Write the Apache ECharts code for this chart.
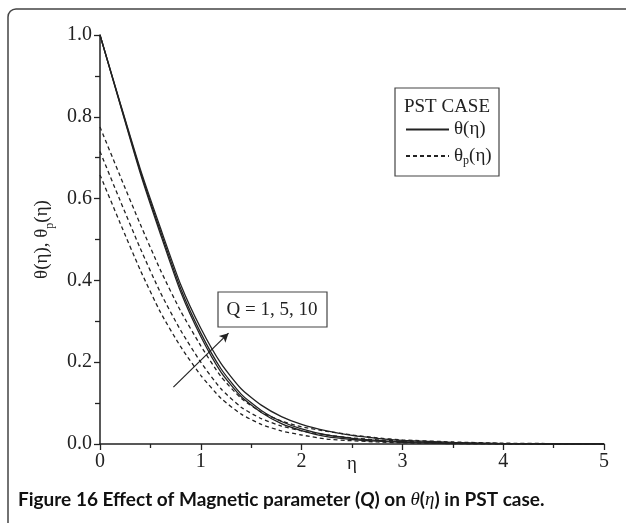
<!DOCTYPE html>
<html>
<head>
<meta charset="utf-8">
<script src="https://cdn.jsdelivr.net/npm/echarts@6/dist/echarts.min.js"></script>
<style>
  html, body { margin: 0; padding: 0; background: #fff; }
  #chart { width: 626px; height: 523px; }
</style>
</head>
<body>
<div id="chart"></div>
<script>
// ========== 数据 ==========
const etaValues = [0, 0.2, 0.4, 0.6, 0.8, 1.0, 1.2, 1.4, 1.6, 1.8, 2.0, 2.25, 2.5, 2.75, 3.0, 3.5, 4.0, 4.5, 5.0];

// θ(η) 实线, Q = 1, 5, 10
const thetaQ1  = [1.0, 0.830, 0.662, 0.513, 0.372, 0.263, 0.176, 0.116, 0.077, 0.050, 0.033, 0.018, 0.011, 0.007, 0.004, 0.001, 0.000, 0.000, 0.000];
const thetaQ5  = [1.0, 0.832, 0.667, 0.520, 0.380, 0.271, 0.184, 0.122, 0.082, 0.055, 0.037, 0.022, 0.014, 0.009, 0.006, 0.002, 0.001, 0.000, 0.000];
const thetaQ10 = [1.0, 0.834, 0.672, 0.528, 0.390, 0.283, 0.197, 0.135, 0.095, 0.067, 0.048, 0.032, 0.021, 0.014, 0.009, 0.004, 0.001, 0.000, 0.000];

// θp(η) 虚线, Q = 1, 5, 10
const thetaPQ1  = [0.658, 0.540, 0.425, 0.322, 0.238, 0.168, 0.112, 0.073, 0.048, 0.032, 0.022, 0.012, 0.008, 0.005, 0.003, 0.001, 0.000, 0.000, 0.000];
const thetaPQ5  = [0.715, 0.595, 0.478, 0.370, 0.278, 0.200, 0.135, 0.090, 0.062, 0.044, 0.032, 0.022, 0.015, 0.010, 0.007, 0.003, 0.001, 0.000, 0.000];
const thetaPQ10 = [0.775, 0.655, 0.537, 0.425, 0.325, 0.240, 0.165, 0.112, 0.078, 0.056, 0.042, 0.031, 0.022, 0.015, 0.010, 0.005, 0.002, 0.001, 0.000];

// 箭头 (Q 增大方向), 数据坐标
const arrowStart = [0.728, 0.139];
const arrowEnd = [1.275, 0.271];

const legendNames = ['θ(η)', 'θp(η)'];
const annotationText = 'Q = 1, 5, 10';
const legendTitle = 'PST CASE';

// ========== 样式 ==========
const serif = '"Liberation Serif", "DejaVu Serif", serif';
const ink = '#222';

function toPairs(values) {
    return etaValues.map((x, i) => [x, values[i]]);
}

function makeSeries(name, values, dashed) {
    return {
        name: name,
        type: 'line',
        data: toPairs(values),
        symbol: 'none',
        smooth: 0.2,
        lineStyle: { color: ink, width: 1.3, type: dashed ? [4, 3] : 'solid' },
        itemStyle: { color: ink },
        emphasis: { disabled: true },
        z: 3
    };
}

const series = [
    makeSeries(legendNames[0], thetaQ1, false),
    makeSeries(legendNames[0], thetaQ5, false),
    makeSeries(legendNames[0], thetaQ10, false),
    makeSeries(legendNames[1], thetaPQ1, true),
    makeSeries(legendNames[1], thetaPQ5, true),
    makeSeries(legendNames[1], thetaPQ10, true)
];

// 箭头用 markLine 画在第一条曲线上
series[0].markLine = {
    silent: true,
    symbol: ['none', 'arrow'],
    symbolSize: [7, 9],
    label: { show: false },
    lineStyle: { color: ink, width: 1.2, type: 'solid' },
    data: [[{ coord: arrowStart }, { coord: arrowEnd }]]
};

const chart = echarts.init(document.getElementById('chart'));

const option = {
    animation: false,
    backgroundColor: '#fff',
    grid: { left: 100, right: 22, top: 35, bottom: 79 },
    xAxis: {
        type: 'value',
        min: 0, max: 5, interval: 1,
        name: 'η',
        nameLocation: 'middle',
        nameGap: 11,
        nameMoveOverlap: false,
        nameTextStyle: { fontFamily: serif, fontSize: 19, color: ink },
        axisLine: { lineStyle: { color: ink, width: 1.5 } },
        axisTick: { inside: false, length: 6, lineStyle: { color: ink, width: 1.3 } },
        minorTick: { show: true, splitNumber: 2, length: 4, lineStyle: { color: ink, width: 1.3 } },
        axisLabel: { fontFamily: serif, fontSize: 20, color: ink, margin: 8 },
        splitLine: { show: false }
    },
    yAxis: {
        type: 'value',
        min: 0, max: 1, interval: 0.2,
        name: '{a|θ(η), θ}{s|p}{a|(η)}',
        nameLocation: 'middle',
        nameGap: 48,
        nameMoveOverlap: false,
        nameTextStyle: {
            color: ink,
            rich: {
                a: { fontFamily: serif, fontSize: 19, color: ink, lineHeight: 22, verticalAlign: 'bottom' },
                s: { fontFamily: serif, fontSize: 12, color: ink, lineHeight: 22, verticalAlign: 'bottom', padding: [0, 0, -4, 0] }
            }
        },
        axisLine: { lineStyle: { color: ink, width: 1.5 } },
        axisTick: { inside: false, length: 6, lineStyle: { color: ink, width: 1.3 } },
        minorTick: { show: true, splitNumber: 2, length: 5, lineStyle: { color: ink, width: 1.3 } },
        axisLabel: {
            fontFamily: serif, fontSize: 20, color: ink, margin: 8,
            formatter: v => v.toFixed(1)
        },
        splitLine: { show: false }
    },
    legend: {
        data: legendNames,
        orient: 'vertical',
        left: 405,
        top: 120,
        itemWidth: 43,
        itemHeight: 14,
        itemGap: 6,
        padding: 0,
        selectedMode: false,
        itemStyle: { opacity: 0 },
        formatter: name => name === 'θp(η)' ? '{a|θ}{s|p}{a|(η)}' : '{a|' + name + '}',
        textStyle: {
            color: ink,
            rich: {
                a: { fontFamily: serif, fontSize: 19, color: ink, lineHeight: 19 },
                s: { fontFamily: serif, fontSize: 12, color: ink, lineHeight: 19, padding: [10, 0, 0, 0] }
            }
        }
    },
    graphic: [
        // 外框
        {
            type: 'rect', silent: true,
            shape: { x: 8, y: 9, width: 700, height: 600, r: 8 },
            style: { fill: 'none', stroke: '#444', lineWidth: 1.5 }
        },
        // 图例框
        {
            type: 'rect', silent: true,
            shape: { x: 395, y: 88, width: 104, height: 88 },
            style: { fill: 'none', stroke: '#444', lineWidth: 1.2 }
        },
        {
            type: 'text', silent: true,
            x: 447, y: 107,
            style: { text: legendTitle, font: '19px ' + serif, fill: ink, align: 'center', verticalAlign: 'middle' }
        },
        // Q 标注
        {
            type: 'rect', silent: true,
            shape: { x: 218, y: 292, width: 109, height: 35 },
            style: { fill: '#fff', stroke: '#444', lineWidth: 1.2 }
        },
        {
            type: 'text', silent: true,
            x: 272, y: 310,
            style: { text: annotationText, font: '19px ' + serif, fill: ink, align: 'center', verticalAlign: 'middle' }
        },
        // 图注
        {
            type: 'text', silent: true,
            x: 18, y: 500,
            style: {
                text: '{b|Figure 16 Effect of Magnetic parameter (}{bi|Q}{b|) on }{m|θ}{b|(}{m|η}{b|) in PST case.}',
                verticalAlign: 'middle',
                rich: {
                    b: { fontFamily: 'Lato', fontWeight: 'bold', fontSize: 19, fill: '#111' },
                    bi: { fontFamily: 'Lato', fontWeight: 'bold', fontStyle: 'italic', fontSize: 19, fill: '#111' },
                    m: { fontFamily: serif, fontStyle: 'italic', fontSize: 19, fill: '#111' }
                }
            }
        }
    ],
    series: series
};

chart.setOption(option);
</script>
</body>
</html>
